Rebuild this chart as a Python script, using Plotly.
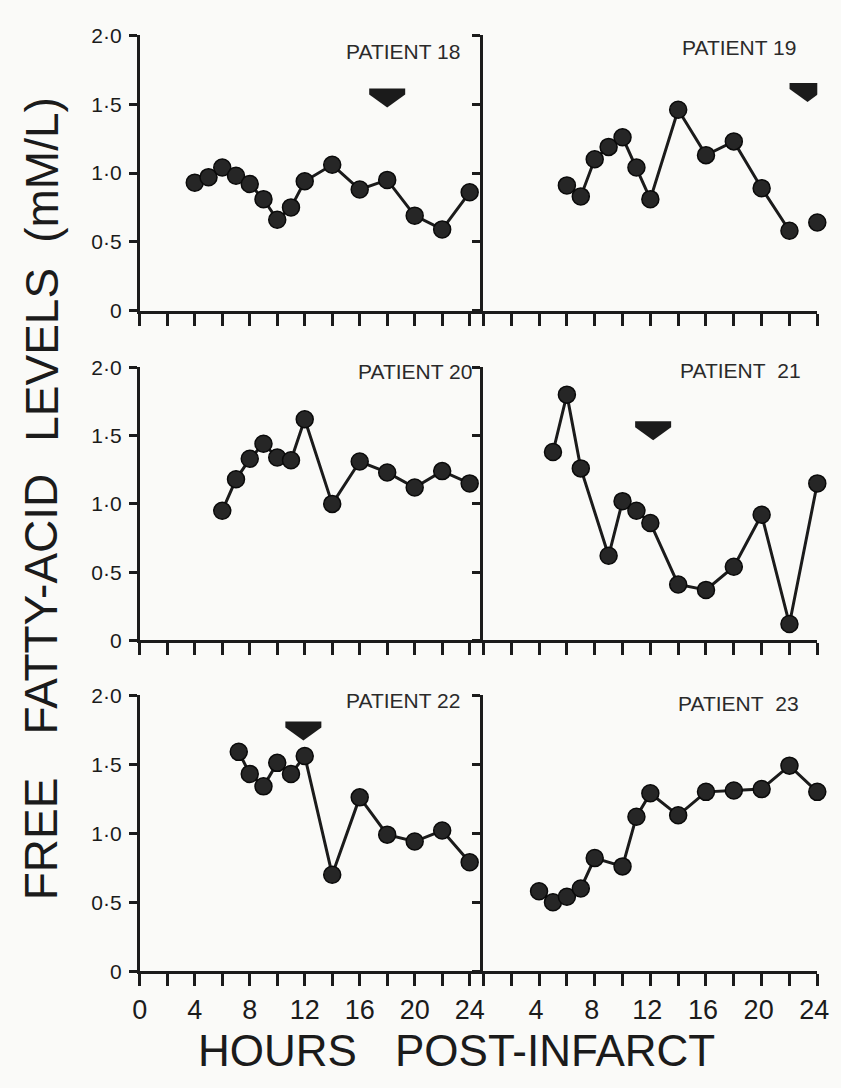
import plotly.graph_objects as go

W, H = 841, 1088
INK = "#1b1b1b"
FONT = "Liberation Sans, Arial, sans-serif"

# ---------------- data (hours post-infarct, FFA mM/L) ----------------
patients = ["PATIENT 18", "PATIENT 19", "PATIENT 20", "PATIENT  21", "PATIENT 22", "PATIENT  23"]

hours_18 = [4, 5, 6, 7, 8, 9, 10, 11, 12, 14, 16, 18, 20, 22, 24]
vals_18 = [0.93, 0.97, 1.04, 0.98, 0.92, 0.81, 0.66, 0.75, 0.94, 1.06, 0.88, 0.95, 0.69, 0.59, 0.86]

hours_19 = [6, 7, 8, 9, 10, 11, 12, 14, 16, 18, 20, 22, 24]
vals_19 = [0.91, 0.83, 1.10, 1.19, 1.26, 1.04, 0.81, 1.46, 1.13, 1.23, 0.89, 0.58, 0.64]
break_19 = 12  # line is not drawn into this point

hours_20 = [6, 7, 8, 9, 10, 11, 12, 14, 16, 18, 20, 22, 24]
vals_20 = [0.95, 1.18, 1.33, 1.44, 1.34, 1.32, 1.62, 1.00, 1.31, 1.23, 1.12, 1.24, 1.15]

hours_21 = [5, 6, 7, 9, 10, 11, 12, 14, 16, 18, 20, 22, 24]
vals_21 = [1.38, 1.80, 1.26, 0.62, 1.02, 0.95, 0.86, 0.41, 0.37, 0.54, 0.92, 0.12, 1.15]

hours_22 = [7.2, 8, 9, 10, 11, 12, 14, 16, 18, 20, 22, 24]
vals_22 = [1.59, 1.43, 1.34, 1.51, 1.43, 1.56, 0.70, 1.26, 0.99, 0.94, 1.02, 0.79]

hours_23 = [4, 5, 6, 7, 8, 10, 11, 12, 14, 16, 18, 20, 22, 24]
vals_23 = [0.58, 0.50, 0.54, 0.60, 0.82, 0.76, 1.12, 1.29, 1.13, 1.30, 1.31, 1.32, 1.49, 1.30]

# arrows (panel index, hour, level)
arrow_panel = [0, 1, 3, 4]
arrow_hour = [18, 23.3, 12.2, 11.9]
arrow_level = [1.55, 1.59, 1.54, 1.745]

y_tickvals = [0, 0.5, 1.0, 1.5, 2.0]
y_ticktext = ["0", "0\u00b75", "1\u00b70", "1\u00b75", "2\u00b70"]
x_tickvals = list(range(0, 25, 2))
x_ticktext_left = ["0", "", "4", "", "8", "", "12", "", "16", "", "20", "", "24"]
x_ticktext_right = ["", "", "4", "", "8", "", "12", "", "16", "", "20", "", "24"]

series = [(hours_18, vals_18), (hours_19, vals_19), (hours_20, vals_20),
          (hours_21, vals_21), (hours_22, vals_22), (hours_23, vals_23)]

# ---------------- layout geometry (pixels) ----------------
row_px = [(24, 305), (363, 642), (698, 980)]
col_px = [(135, 487), (487, 829)]
x_ranges = [[0, 25], [0, 24]]
label_px = [(405, 40), (749, 36), (417, 367), (750, 366), (405, 703), (748, 706)]


def fx(p):
    return p / W


def fy(p):
    return 1 - p / H


fig = go.Figure()
layout = dict(
    width=W, height=H, autosize=False,
    margin=dict(l=0, r=0, t=0, b=0),
    paper_bgcolor="#fafaf8", plot_bgcolor="rgba(0,0,0,0)",
    showlegend=False,
    font=dict(family=FONT, color=INK),
)

shapes = []
annotations = []

for i, (hx, vy) in enumerate(series):
    row, col = divmod(i, 2)
    n = "" if i == 0 else str(i + 1)
    xa, ya = "x" + n, "y" + n
    bottom = row == 2
    layout["xaxis" + n] = dict(
        domain=[fx(col_px[col][0]), fx(col_px[col][1])],
        range=x_ranges[col], anchor=ya,
        showline=True, linewidth=3, linecolor=INK,
        ticks="outside", ticklen=12, tickwidth=2.5, tickcolor=INK,
        tickvals=x_tickvals,
        ticktext=x_ticktext_left if col == 0 else x_ticktext_right,
        showticklabels=bottom, ticklabeloverflow="allow",
        ticklabelshift=(-3 if col == 1 else 0),
        tickfont=dict(size=27, family=FONT, color=INK),
        showgrid=False, zeroline=False, fixedrange=True,
    )
    layout["yaxis" + n] = dict(
        domain=[fy(row_px[row][1]), fy(row_px[row][0])],
        range=[0, 2], anchor=xa,
        showline=True, linewidth=3, linecolor=INK,
        ticks="outside", ticklen=8, tickwidth=2.5, tickcolor=INK,
        tickvals=y_tickvals, ticktext=y_ticktext,
        showticklabels=(col == 0), ticklabelstandoff=3,
        tickfont=dict(size=21, family=FONT, color=INK),
        showgrid=False, zeroline=False, fixedrange=True,
    )

    xs, ys = list(hx), list(vy)
    if i == 1:
        xs = xs[:break_19] + [None] + xs[break_19:]
        ys = ys[:break_19] + [None] + ys[break_19:]
    fig.add_trace(go.Scatter(
        x=xs, y=ys, xaxis=xa, yaxis=ya,
        mode="lines+markers", connectgaps=False,
        line=dict(color=INK, width=3),
        marker=dict(size=17, color="#262626", line=dict(color="#0a0a0a", width=1.5)),
        cliponaxis=False, hoverinfo="skip",
    ))

    lx, ly = label_px[i]
    annotations.append(dict(
        x=fx(lx), y=fy(ly), xref="paper", yref="paper",
        text=patients[i].replace("  ", "\u00a0\u00a0"), showarrow=False,
        font=dict(size=21, family=FONT, color="#2a2a2a"),
        xanchor="center", yanchor="middle",
    ))

# arrows: filled block arrows pointing down, anchored at (hour, level)
arrow_path = "M-18,9 L18,9 L18,3 L0,-10 L-18,3 Z"
for p, h, v in zip(arrow_panel, arrow_hour, arrow_level):
    n = "" if p == 0 else str(p + 1)
    shapes.append(dict(
        type="path", xref="x" + n, yref="y" + n,
        xsizemode="pixel", ysizemode="pixel",
        xanchor=h, yanchor=v, path=arrow_path,
        fillcolor=INK, line=dict(width=0), layer="above",
    ))

# axis titles
ytitle = [("(mM/L)", 161), ("LEVELS", 350), ("FATTY-ACID", 605), ("FREE", 845)]
for txt, py in ytitle:
    annotations.append(dict(
        x=fx(34), y=fy(py), xref="paper", yref="paper",
        text=txt, textangle=-90, showarrow=False,
        font=dict(size=46, family=FONT, color=INK),
        xanchor="center", yanchor="middle",
    ))
xtitle = [("HOURS", 276), ("POST-INFARCT", 560)]
for txt, pxx in xtitle:
    annotations.append(dict(
        x=fx(pxx), y=0, xref="paper", yref="paper",
        text=txt, showarrow=False,
        font=dict(size=44, family=FONT, color=INK),
        xanchor="center", yanchor="bottom",
    ))

layout["shapes"] = shapes
layout["annotations"] = annotations
fig.update_layout(**layout)
fig.write_html(
    "out.html",
    config={"displayModeBar": False},
    post_script="document.body.style.margin='0';document.body.style.overflow='hidden';"
                "document.documentElement.style.overflow='hidden';",
)
